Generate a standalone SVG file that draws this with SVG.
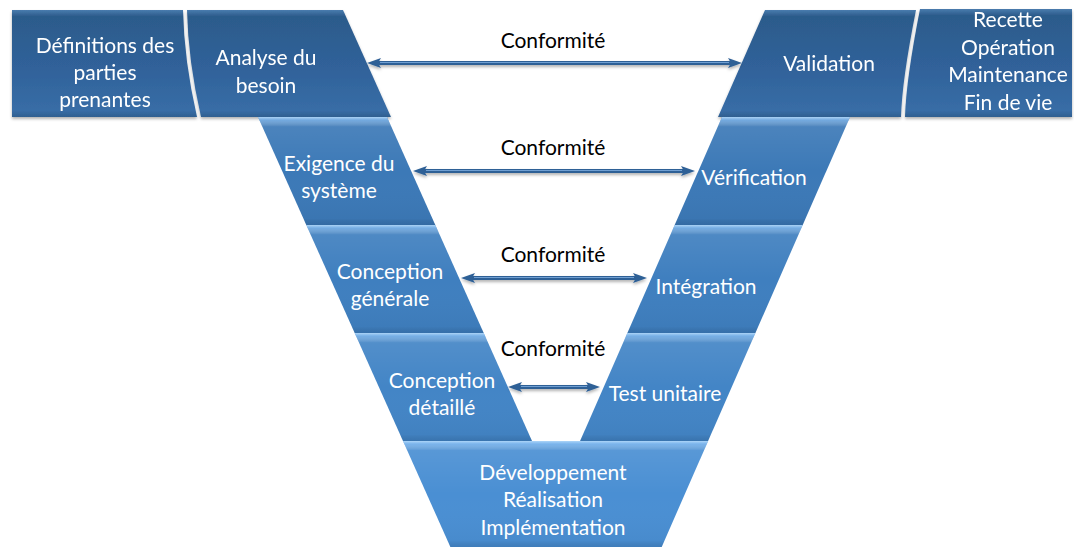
<svg xmlns="http://www.w3.org/2000/svg" width="1074" height="547" viewBox="0 0 1074 547">
  <defs>
    <linearGradient id="gTop" x1="0" y1="0" x2="0" y2="1">
      <stop offset="0" stop-color="#4a7cae"/>
      <stop offset="0.06" stop-color="#2c5b8b"/>
      <stop offset="0.55" stop-color="#30629a"/>
      <stop offset="0.94" stop-color="#386da6"/>
      <stop offset="1" stop-color="#2f5f90"/>
    </linearGradient>
    <linearGradient id="bevel" x1="0" y1="0" x2="0" y2="1">
      <stop offset="0" stop-color="#bfe2ff" stop-opacity="0.85"/>
      <stop offset="0.03" stop-color="#9fd0ff" stop-opacity="0.55"/>
      <stop offset="0.09" stop-color="#ffffff" stop-opacity="0.08"/>
      <stop offset="0.5" stop-color="#ffffff" stop-opacity="0"/>
      <stop offset="0.94" stop-color="#000000" stop-opacity="0.03"/>
      <stop offset="1" stop-color="#0d2a4a" stop-opacity="0.18"/>
    </linearGradient>
    <filter id="shadow" x="-10%" y="-10%" width="120%" height="130%">
      <feDropShadow dx="0" dy="2" stdDeviation="1.6" flood-color="#000" flood-opacity="0.3"/>
    </filter>
    <marker id="head" viewBox="0 0 14 10" refX="3" refY="5" markerWidth="14" markerHeight="10" markerUnits="userSpaceOnUse" orient="auto-start-reverse">
      <path d="M0,0 L14,5 L0,10 L3,5 Z" fill="#2e6096"/>
    </marker>
  </defs>
  <style>
    .lbl { font-family: Lato, "Liberation Sans", sans-serif; font-size: 21px; fill: #ffffff; text-anchor: middle; }
    .conf { font-family: Lato, "Liberation Sans", sans-serif; font-size: 21px; fill: #000000; text-anchor: middle; }
    .top { fill: url(#gTop); }
    .r1 { fill: #3c79b7; }
    .r2 { fill: #3f7fbf; }
    .r3 { fill: #4385c6; }
    .r4 { fill: #4a8fd3; }
    .bv { fill: url(#bevel); }
    .arr { fill: none; stroke: #2e6096; stroke-width: 4; marker-start: url(#head); marker-end: url(#head); }
    .arrHi { fill: none; stroke: #6f9fd2; stroke-width: 1; }
  </style>

  <g id="definitions" filter="url(#shadow)">
    <path class="top" d="M12,10 H183 Q184,60 197,117 H12 Z"/>
    <text class="lbl" x="105" y="53">Définitions des</text>
    <text class="lbl" x="105" y="80">parties</text>
    <text class="lbl" x="105" y="107">prenantes</text>
  </g>
  <g id="analyse" filter="url(#shadow)">
    <path class="top" d="M187,10 H343 L391,117 H201 Q188,60 187,10 Z"/>
    <text class="lbl" x="266" y="65">Analyse du</text>
    <text class="lbl" x="266" y="93">besoin</text>
  </g>
  <g id="validation" filter="url(#shadow)">
    <path class="top" d="M765,10 H916 Q902,80 901,117 H718 Z"/>
    <text class="lbl" x="829" y="71">Validation</text>
  </g>
  <g id="recette" filter="url(#shadow)">
    <path class="top" d="M920,9 H1072 V117 H905 Q906,80 920,9 Z"/>
    <text class="lbl" x="1008" y="27">Recette</text>
    <text class="lbl" x="1008" y="55">Opération</text>
    <text class="lbl" x="1008" y="82">Maintenance</text>
    <text class="lbl" x="1008" y="110">Fin de vie</text>
  </g>

  <g id="exigence">
    <path class="r1" d="M258,117 H387 L435.3,225 H306.3 Z"/>
    <path class="bv" d="M258,117 H387 L435.3,225 H306.3 Z"/>
    <text class="lbl" x="339" y="171">Exigence du</text>
    <text class="lbl" x="339" y="198">système</text>
  </g>
  <g id="conception-generale">
    <path class="r2" d="M306.3,225 H435.3 L483.7,333 H354.7 Z"/>
    <path class="bv" d="M306.3,225 H435.3 L483.7,333 H354.7 Z"/>
    <text class="lbl" x="390" y="279">Conception</text>
    <text class="lbl" x="390" y="306">générale</text>
  </g>
  <g id="conception-detaille">
    <path class="r3" d="M354.7,333 H483.7 L532,441 H403 Z"/>
    <path class="bv" d="M354.7,333 H483.7 L532,441 H403 Z"/>
    <text class="lbl" x="442" y="388">Conception</text>
    <text class="lbl" x="442" y="415">détaillé</text>
  </g>
  <g id="verification">
    <path class="r1" d="M722,117 H850 L802.7,225 H674.7 Z"/>
    <path class="bv" d="M722,117 H850 L802.7,225 H674.7 Z"/>
    <text class="lbl" x="754" y="185">Vérification</text>
  </g>
  <g id="integration">
    <path class="r2" d="M674.7,225 H802.7 L755.4,333 H627.4 Z"/>
    <path class="bv" d="M674.7,225 H802.7 L755.4,333 H627.4 Z"/>
    <text class="lbl" x="706" y="294">Intégration</text>
  </g>
  <g id="test-unitaire">
    <path class="r3" d="M627.4,333 H755.4 L708.1,441 H580.1 Z"/>
    <path class="bv" d="M627.4,333 H755.4 L708.1,441 H580.1 Z"/>
    <text class="lbl" x="665" y="401">Test unitaire</text>
  </g>
  <g id="developpement">
    <path class="r4" d="M403,441 H708.1 L661.7,547 H450.4 Z"/>
    <path class="bv" d="M403,441 H708.1 L661.7,547 H450.4 Z"/>
    <text class="lbl" x="553" y="480">Développement</text>
    <text class="lbl" x="553" y="507">Réalisation</text>
    <text class="lbl" x="553" y="535">Implémentation</text>
  </g>

  <g id="connectors" filter="url(#shadow)">
    <path class="arr" d="M378,63 H731"/>
    <path class="arrHi" d="M380,62.5 H729"/>
    <path class="arr" d="M424,171 H684"/>
    <path class="arrHi" d="M426,170.5 H682"/>
    <path class="arr" d="M472,278 H636"/>
    <path class="arrHi" d="M474,277.5 H634"/>
    <path class="arr" d="M519,387 H589"/>
    <path class="arrHi" d="M521,386.5 H587"/>
  </g>
  <g id="labels">
    <text class="conf" x="553" y="48">Conformité</text>
    <text class="conf" x="553" y="155">Conformité</text>
    <text class="conf" x="553" y="262">Conformité</text>
    <text class="conf" x="553" y="356">Conformité</text>
  </g>
</svg>
